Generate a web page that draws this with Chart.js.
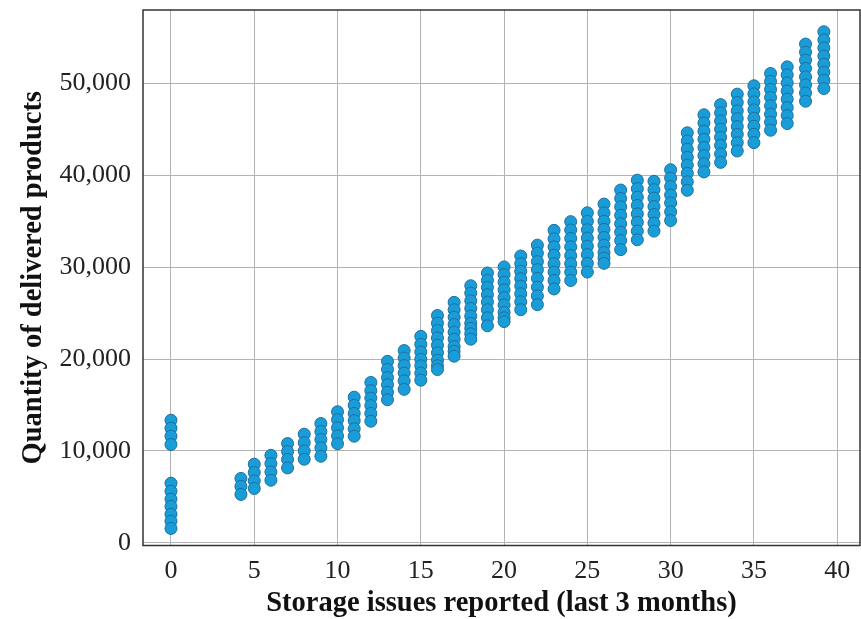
<!DOCTYPE html>
<html>
<head>
<meta charset="utf-8">
<script src="https://cdn.jsdelivr.net/npm/chart.js@4/dist/chart.umd.min.js"></script>
<style>
  html, body { margin: 0; padding: 0; background: #fff; }
  canvas { display: block; }
</style>
</head>
<body>
<canvas id="scatter" width="861" height="619"></canvas>
<script>
// storage issues per branch (x) and the delivered quantities seen at each count (y)
const issueCounts = [0, 4.2, 5, 6, 7, 8, 9, 10, 11, 12, 13, 14, 15, 16, 17, 18, 19, 20,
  21, 22, 23, 24, 25, 26, 27, 28, 29, 30, 31, 32, 33, 34, 35, 36, 37, 38.1, 39.2];

const deliveredQty = [
  [13340, 12470, 11600, 10700, 6480, 5610, 4740, 3950, 3110, 2350, 1560],
  [7000, 6130, 5260],
  [8550, 7650, 6740, 5910],
  [9520, 8620, 7710, 6810],
  [10800, 9930, 9060, 8150],
  [11820, 10900, 10000, 9090],
  [12980, 12110, 11240, 10330, 9420],
  [14260, 13400, 12520, 11630, 10780],
  [15850, 14960, 14080, 13300, 12410, 11600],
  [17450, 16560, 15750, 14930, 14080, 13230],
  [19750, 18870, 17980, 17200, 16380, 15570],
  [20920, 20110, 19290, 18480, 17620, 16700],
  [22470, 21600, 20770, 19970, 19270, 18470, 17700],
  [24740, 23900, 23100, 22300, 21500, 20680, 19880, 19280, 18850],
  [26170, 25370, 24560, 23760, 22930, 22160, 21360, 20840, 20310],
  [27980, 27180, 26340, 25510, 24670, 23900, 23350, 22750, 22160],
  [29370, 28570, 27800, 27000, 26200, 25370, 24490, 23620],
  [30030, 29200, 28360, 27530, 26690, 25890, 25090, 24490, 24080],
  [31220, 30380, 29550, 28750, 27940, 27110, 26240, 25370],
  [32400, 31530, 30610, 29730, 28780, 27820, 26870, 25920],
  [34010, 33090, 32210, 31300, 30380, 29470, 28550, 27630],
  [34960, 34050, 33130, 32210, 31260, 30380, 29470, 28550],
  [35920, 35000, 34080, 33170, 32290, 31370, 30420, 29470],
  [36870, 35920, 35000, 34120, 33240, 32400, 31600, 30990, 30420],
  [38400, 37480, 36570, 35650, 34730, 33820, 32900, 31910],
  [39470, 38550, 37630, 36720, 35800, 34890, 33930, 32980],
  [39350, 38440, 37520, 36600, 35730, 34810, 33930],
  [40610, 39700, 38780, 37860, 36990, 36030, 35080],
  [44630, 43740, 42850, 41960, 41110, 40220, 39300, 38370],
  [46590, 45700, 44810, 43920, 43030, 42150, 41260, 40370],
  [47700, 46810, 45920, 45030, 44140, 43260, 42330, 41410],
  [48840, 47930, 47020, 46180, 45310, 44470, 43560, 42650],
  [49750, 48870, 48000, 47130, 46220, 45350, 44470, 43560],
  [51090, 50220, 49350, 48470, 47560, 46660, 45790, 44910],
  [51810, 50940, 50070, 49190, 48290, 47380, 46510, 45640],
  [54290, 53410, 52540, 51640, 50720, 49850, 48970, 48070],
  [55630, 54750, 53880, 52980, 52100, 51230, 50360, 49450]
];

const xTicks = [0, 5, 10, 15, 20, 25, 30, 35, 40];
const yTicks = [0, 10000, 20000, 30000, 40000, 50000];

const points = issueCounts.flatMap((x, i) => deliveredQty[i].map(y => ({ x, y })));

const serif = '"Liberation Serif", "DejaVu Serif", serif';

// box around the plot area
const frame = {
  id: 'frame',
  afterDraw(chart) {
    const { ctx, chartArea: a } = chart;
    ctx.save();
    ctx.strokeStyle = '#333';
    ctx.lineWidth = 1.5;
    ctx.strokeRect(a.left, a.top, a.right - a.left, a.bottom - a.top);
    ctx.restore();
  }
};

// fixed axis sizes, no extra room for overhanging labels
function pinAxis(size, key) {
  return s => {
    s[key] = size;
    s.paddingTop = s.paddingBottom = s.paddingLeft = s.paddingRight = 0;
  };
}

new Chart(document.getElementById('scatter'), {
  type: 'scatter',
  data: {
    datasets: [{
      data: points,
      backgroundColor: '#199dd9',
      borderColor: '#1f6e9c',
      borderWidth: 1,
      pointRadius: 6
    }]
  },
  options: {
    responsive: false,
    animation: false,
    layout: { autoPadding: false, padding: { top: 10, right: 1, left: 0, bottom: 0 } },
    plugins: { legend: { display: false }, tooltip: { enabled: false } },
    scales: {
      x: {
        type: 'linear',
        min: -1.68,
        max: 41.37,
        afterFit: pinAxis(73.5, 'height'),
        afterBuildTicks: s => { s.ticks = xTicks.map(v => ({ value: v })); },
        grid: { color: '#b3b3b3', lineWidth: 1, drawTicks: false },
        border: { display: false },
        ticks: { padding: 10, color: '#222', font: { family: serif, size: 26 } },
        title: {
          display: true,
          text: 'Storage issues reported (last 3 months)',
          color: '#111',
          padding: { top: 0, bottom: 0 },
          font: { family: serif, size: 28.5, weight: 'bold', lineHeight: 1.05 }
        }
      },
      y: {
        min: -300,
        max: 58000,
        afterFit: pinAxis(143, 'width'),
        afterBuildTicks: s => { s.ticks = yTicks.map(v => ({ value: v })); },
        grid: { color: '#b3b3b3', lineWidth: 1, drawTicks: false },
        border: { display: false },
        ticks: {
          padding: 12,
          color: '#222',
          font: { family: serif, size: 26 },
          callback: v => v.toLocaleString('en-US')
        },
        title: {
          display: true,
          text: 'Quantity of delivered products',
          color: '#111',
          padding: { top: 19, bottom: 0 },
          font: { family: serif, size: 28.5, weight: 'bold', lineHeight: 1.05 }
        }
      }
    }
  },
  plugins: [frame]
});
</script>
</body>
</html>
